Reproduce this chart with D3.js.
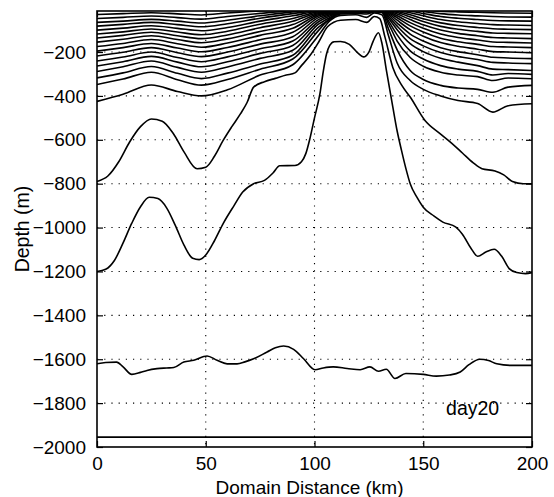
<!DOCTYPE html>
<html>
<head>
<meta charset="utf-8">
<script src="https://cdn.jsdelivr.net/npm/d3@7"></script>
<style>
  html, body { margin: 0; padding: 0; background: #fff; }
  svg { display: block; }
  text { font-family: "Liberation Sans", Arial, Helvetica, sans-serif; fill: #000; }
</style>
</head>
<body>
<svg id="chart" width="554" height="497"></svg>
<script>
// ---------- data ----------
const xTicks = [0, 50, 100, 150, 200];
const yTicks = [-2000, -1800, -1600, -1400, -1200, -1000, -800, -600, -400, -200];
const xLabel = "Domain Distance (km)";
const yLabel = "Depth (m)";
const annotation = "day20";

// x positions (km) shared by the upper isolines
const upperX = [0, 12, 25, 37, 48, 60, 75, 90, 102, 107, 112, 119, 124, 127.5, 131, 134, 138, 144, 150, 158, 166, 175, 182, 189, 200];
// depths (m) of the upper isolines, shallow to deep
const iso01 = [-29, -25, -21, -26, -31, -22, -13, -8, -5, -5, -5, -5, -5, -5, -5, -5, -5, -6, -8, -14, -17, -19, -21, -22, -23];
const iso02 = [-47, -42, -36, -43, -50, -38, -24, -12, -6, -5, -5, -5, -5, -5, -5, -5, -6, -9, -15, -25, -31, -35, -38, -40, -41];
const iso03 = [-65, -59, -51, -59, -68, -55, -35, -17, -8, -6, -5, -5, -5, -5, -5, -6, -8, -14, -24, -38, -46, -52, -56, -58, -59];
const iso04 = [-82, -74, -65, -75, -85, -71, -46, -25, -10, -7, -6, -5, -5, -5, -5, -7, -11, -21, -35, -52, -62, -70, -75, -77, -79];
const iso05 = [-100, -91, -80, -92, -103, -88, -59, -35, -13, -9, -7, -6, -6, -5, -6, -8, -15, -30, -48, -67, -79, -88, -94, -96, -98];
const iso06 = [-118, -108, -95, -109, -121, -105, -73, -47, -16, -11, -8, -7, -7, -6, -7, -10, -20, -40, -61, -83, -96, -106, -113, -115, -117];
const iso07 = [-136, -124, -110, -126, -139, -122, -89, -60, -20, -13, -9, -8, -8, -7, -8, -13, -27, -52, -76, -100, -115, -126, -134, -136, -139];
const iso08 = [-155, -142, -126, -143, -158, -140, -106, -75, -24, -15, -10, -9, -9, -8, -9, -16, -35, -66, -92, -118, -134, -145, -154, -156, -159];
const iso09 = [-175, -161, -143, -162, -178, -159, -124, -92, -29, -18, -12, -10, -10, -9, -10, -20, -44, -81, -109, -137, -153, -165, -175, -177, -180];
const iso10 = [-196, -180, -161, -182, -199, -179, -144, -110, -35, -21, -13, -11, -11, -10, -11, -25, -55, -98, -128, -157, -174, -187, -198, -200, -203];
const iso11 = [-218, -201, -180, -203, -221, -200, -164, -130, -42, -25, -14, -12, -12, -11, -12, -31, -68, -118, -150, -180, -198, -212, -224, -227, -230];
const iso12 = [-241, -223, -200, -225, -244, -222, -185, -150, -51, -30, -16, -13, -13, -12, -13, -38, -82, -139, -172, -202, -220, -234, -247, -250, -253];
const iso13 = [-264, -244, -220, -246, -267, -244, -206, -170, -61, -36, -18, -15, -15, -13, -14, -46, -98, -162, -198, -228, -246, -262, -278, -280, -284];
const iso14 = [-289, -267, -241, -270, -292, -268, -229, -192, -72, -43, -20, -17, -17, -14, -15, -58, -122, -195, -232, -262, -278, -288, -305, -298, -302];
const iso15 = [-318, -295, -266, -297, -321, -296, -255, -215, -85, -52, -23, -20, -21, -16, -17, -70, -150, -225, -265, -292, -305, -312, -330, -318, -322];
const iso16 = [-348, -323, -292, -326, -351, -325, -278, -232, -100, -48, -27, -24, -27, -17, -20, -94, -190, -284, -325, -352, -364, -370, -383, -360, -352];
const iso17 = [-425, -392, -350, -380, -400, -372, -305, -258, -122, -58, -33, -30, -42, -22, -30, -125, -250, -330, -370, -400, -421, -435, -474, -445, -436];

// deeper isolines: [km, depth]
const iso18 = [[0,-790],[5,-765],[10,-700],[15,-610],[20,-540],[25,-505],[30,-515],[35,-570],[40,-655],[46,-732],[50,-725],[54,-675],[58,-603],[62,-540],[66,-481],[69,-430],[72,-360],[77,-335],[82,-320],[87,-305],[91,-295],[94,-262],[98,-215],[102,-153],[106,-85],[112,-55],[119,-52],[124,-65],[127.5,-38],[130,-48],[132.4,-132],[136,-270],[140,-350],[144,-405],[150.8,-512],[157.7,-572],[163,-615],[168,-660],[173,-705],[177,-732],[183,-742],[187,-760],[191,-790],[196,-800],[200,-800]];
const iso19 = [[0,-1200],[4,-1190],[8,-1150],[12,-1070],[16,-980],[20,-905],[24,-862],[28,-868],[32,-910],[36,-990],[40,-1080],[44,-1140],[47,-1146],[50,-1125],[54,-1060],[58,-982],[63,-900],[67,-838],[72,-800],[77,-785],[81,-750],[84,-718],[91,-717],[94,-700],[96,-663],[98,-590],[100,-500],[102.5,-390],[104,-290],[105.5,-210],[107,-170],[109,-153],[112,-152],[116,-165],[120,-205],[122.5,-222],[125,-200],[127,-150],[129.4,-112],[131,-160],[133,-280],[136,-450],[138,-560],[140,-648],[142,-730],[144,-800],[147,-860],[150,-907],[155,-948],[159,-975],[165,-998],[168,-1030],[172,-1095],[175,-1131],[179,-1110],[182.6,-1099],[186,-1130],[189.5,-1187],[193,-1205],[197,-1210],[200,-1205]];
const iso20 = [[0,-1621],[4,-1615],[9,-1613],[12,-1635],[16,-1669],[20,-1660],[23,-1651],[27.6,-1643],[32,-1640],[35.3,-1638],[39.9,-1613],[44.5,-1605],[50.6,-1585],[55.2,-1605],[59.8,-1621],[64.4,-1621],[68,-1612],[72,-1598],[78.2,-1567],[82,-1548],[85.8,-1540],[90.4,-1555],[95,-1598],[100.2,-1648],[104,-1640],[108.6,-1635],[115,-1642],[121,-1648],[125.5,-1635],[129.4,-1655],[133,-1646],[137,-1688],[142,-1665],[150,-1669],[156,-1677],[162,-1672],[167,-1658],[171,-1625],[176,-1600],[180,-1606],[183.8,-1621],[190,-1628],[198,-1628],[200,-1628]];
const iso21 = [[0,-1955],[200,-1955]];

// ---------- layout ----------
const svg = d3.select("#chart");
const L = 97, R = 532, T = 11, B = 447;
const x = d3.scaleLinear().domain([0, 200]).range([L, R]);
const y = d3.scaleLinear().domain([-2000, -13]).range([B, T]);

const upperSets = [iso01, iso02, iso03, iso04, iso05, iso06, iso07, iso08, iso09, iso10,
                   iso11, iso12, iso13, iso14, iso15, iso16, iso17];
const allLines = upperSets.map(arr => arr.map((d, i) => [upperX[i], d]))
  .concat([iso18, iso19, iso20, iso21]);

svg.append("defs").append("clipPath").attr("id", "plotclip")
  .append("rect").attr("x", L).attr("y", T).attr("width", R - L).attr("height", B - T);

// grid
const grid = svg.append("g").attr("stroke", "#000").attr("stroke-width", 1.1)
  .attr("stroke-dasharray", "1.2,6");
grid.selectAll(".gx").data(xTicks.filter(v => v > 0 && v < 200)).join("line")
  .attr("x1", d => x(d)).attr("x2", d => x(d)).attr("y1", T).attr("y2", B);
grid.selectAll(".gy").data(yTicks.filter(v => v > -2000)).join("line")
  .attr("x1", L).attr("x2", R).attr("y1", d => y(d)).attr("y2", d => y(d));

// contour lines
const lineGen = d3.line().x(d => x(d[0])).y(d => y(d[1])).curve(d3.curveMonotoneX);
svg.append("g").attr("clip-path", "url(#plotclip)")
  .selectAll("path").data(allLines).join("path")
  .attr("d", lineGen).attr("fill", "none").attr("stroke", "#000")
  .attr("stroke-width", 1.6).attr("stroke-linejoin", "round");

// axes with inward ticks
const ax = svg.append("g");
ax.append("g").attr("transform", `translate(0,${B})`)
  .call(d3.axisBottom(x).tickValues(xTicks).tickSizeInner(-6).tickSizeOuter(0).tickPadding(10).tickFormat(d3.format("d")));
ax.append("g").attr("transform", `translate(0,${T})`)
  .call(d3.axisTop(x).tickValues(xTicks).tickSizeInner(-6).tickSizeOuter(0).tickFormat(""));
ax.append("g").attr("transform", `translate(${L},0)`)
  .call(d3.axisLeft(y).tickValues(yTicks).tickSizeInner(-6).tickSizeOuter(0).tickPadding(11)
    .tickFormat(d => String(d).replace("-", "\u2212")));
ax.append("g").attr("transform", `translate(${R},0)`)
  .call(d3.axisRight(y).tickValues(yTicks).tickSizeInner(-6).tickSizeOuter(0).tickFormat(""));
ax.selectAll(".domain").remove();
ax.selectAll(".tick line").attr("stroke", "#000").attr("stroke-width", 1.2);
ax.selectAll(".tick text").attr("font-size", 19).attr("font-family", "Liberation Sans, Arial, sans-serif").attr("fill", "#000");

// box
svg.append("rect").attr("x", L).attr("y", T).attr("width", R - L).attr("height", B - T)
  .attr("fill", "none").attr("stroke", "#000").attr("stroke-width", 1.6);

// labels
svg.append("text").attr("x", (L + R) / 2 - 5).attr("y", 494).attr("text-anchor", "middle")
  .attr("font-size", 19).text(xLabel);
svg.append("text").attr("transform", `translate(29,${(T + B) / 2}) rotate(-90)`)
  .attr("text-anchor", "middle").attr("font-size", 19.5).text(yLabel);
svg.append("text").attr("x", x(160.5)).attr("y", y(-1820) + 7).attr("font-size", 19.5).text(annotation);
</script>
</body>
</html>
